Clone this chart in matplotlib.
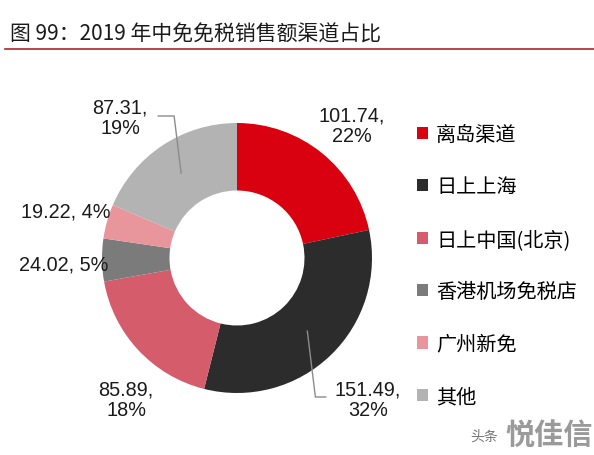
import numpy as np
import matplotlib.pyplot as plt
from matplotlib.patches import Patch

plt.rcParams['font.family'] = ['Liberation Sans', 'Noto Sans CJK SC', 'DejaVu Sans']

# data
channels = ['离岛渠道', '日上上海', '日上中国(北京)', '香港机场免税店', '广州新免', '其他']
sales = [101.74, 151.49, 85.89, 24.02, 19.22, 87.31]
colors = ['#D9000F', '#2C2C2C', '#D45C6B', '#7B7B7B', '#E9959C', '#B3B3B3']

W, H = 594, 456
fig = plt.figure(figsize=(W / 100, H / 100), dpi=100)

# donut geometry in pixels
cx, cy, R = 237, 259, 135

def px2fig(x, y):
    return x / W, 1 - y / H

ax = fig.add_axes([(cx - R) / W, 1 - (cy + R) / H, 2 * R / W, 2 * R / H])
wedges, _ = ax.pie(sales, colors=colors, startangle=90, counterclock=False,
                   radius=1, wedgeprops=dict(width=0.5, edgecolor='none'))
ax.set_xlim(-1, 1)
ax.set_ylim(-1, 1)
ax.set_aspect('equal')
ax.axis('off')

def pdata(x, y):
    # pixel -> pie data coords
    return (x - cx) / R, (cy - y) / R

total = sum(sales)
pct = [round(v / total * 100) for v in sales]

# label positions (pixel centers) and whether the label is split over 2 lines
label_pos = [(352, 126, True), (368, 400, True), (126, 400, True),
             (64, 265, False), (66, 212, False), (120, 118, True)]
for i, (v, p) in enumerate(zip(sales, pct)):
    x, y, two = label_pos[i]
    txt = f'{v:.2f},\n{p}%' if two else f'{v:.2f}, {p}%'
    ax.text(*pdata(x, y), txt, ha='center', va='center', fontsize=14.3,
            color='#1a1a1a', linespacing=1.1, clip_on=False)

# leader lines for two labels
for i, end in [(1, (326, 398)), (5, (158, 117))]:
    w = wedges[i]
    mid = np.deg2rad((w.theta1 + w.theta2) / 2)
    start = (0.75 * np.cos(mid), 0.75 * np.sin(mid))
    ax.annotate('', xy=start, xytext=pdata(*end), annotation_clip=False,
                arrowprops=dict(arrowstyle='-', color='#8c8c8c', lw=1,
                                shrinkA=0, shrinkB=0,
                                connectionstyle='angle,angleA=0,angleB=97'))

# legend
handles = [Patch(facecolor=c, edgecolor='none') for c in colors]
fig.legend(handles, channels, loc='upper left',
           bbox_to_anchor=px2fig(417, 125), frameon=False,
           handlelength=0.55, handleheight=0.55,
           handletextpad=0.4, labelspacing=1.56, borderpad=0, borderaxespad=0,
           prop={'family': ['Noto Sans CJK SC', 'DejaVu Sans'], 'size': 14.5})

# title and rule
fig.text(*px2fig(10, 35), '图 99：2019 年中免免税销售额渠道占比', fontsize=15,
         va='center', ha='left', color='#1a1a1a',
         family=['Noto Sans CJK SC', 'DejaVu Sans'])
fig.add_artist(plt.Line2D([5 / W, 1], [1 - 50 / H] * 2, color='#B22222', lw=1.2))

# watermark
fig.text(*px2fig(470, 437), '头条', fontsize=10, va='center', color='#777777',
         family=['Noto Sans CJK SC'])
fig.text(*px2fig(505, 435), '悦佳信', fontsize=21, va='center', color='#9a9a9a',
         weight='bold', family=['Noto Sans CJK SC'])

fig.savefig('out.png', dpi=100)
